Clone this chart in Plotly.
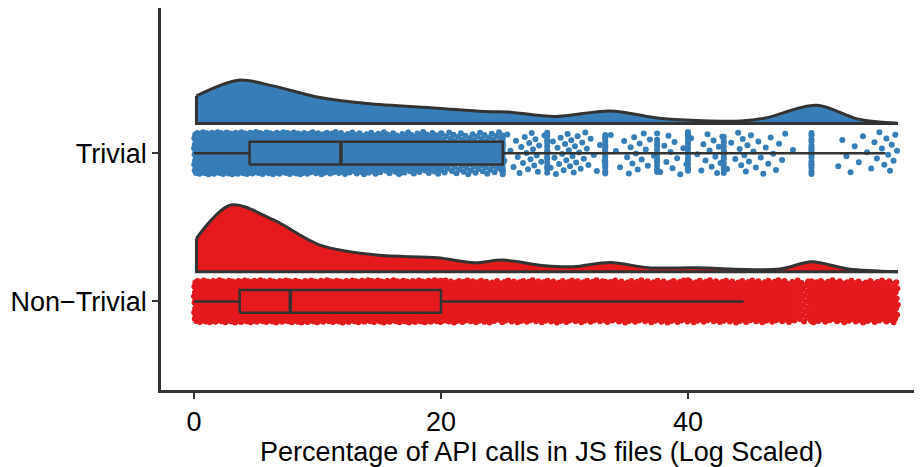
import plotly.graph_objects as go

# ---------------- data ----------------
groups = ["Non−Trivial", "Trivial"]
group_pos = [1, 2]
colors = ["#E41A1C", "#377EB8"]

# box statistics (percentage)
box_q1 = [3.7, 4.5]
box_median = [7.8, 11.9]
box_q3 = [20.0, 25.0]
box_lower = [0.0, 0.0]
box_upper = [44.5, 56.0]

# density (relative) of each group, read from the half-violins
dens_x_nontrivial = [0.2, 3.0, 6.4, 10.2, 14.8, 19.7, 22.7, 25.0, 28.4, 30.7, 33.7, 36.8, 40.6, 47.4, 50.0, 53.0, 57.0]
dens_y_nontrivial = [0.50, 1.00, 0.78, 0.40, 0.25, 0.21, 0.135, 0.175, 0.09, 0.075, 0.14, 0.06, 0.06, 0.04, 0.15, 0.04, 0.0]
dens_x_trivial = [0.2, 3.6, 6.4, 10.2, 14.0, 19.7, 23.5, 25.4, 29.2, 33.7, 37.9, 44.3, 46.2, 50.4, 53.8, 57.0]
dens_y_trivial = [0.415, 0.65, 0.565, 0.39, 0.30, 0.23, 0.18, 0.175, 0.105, 0.19, 0.075, 0.04, 0.08, 0.275, 0.065, 0.006]

# raw observations summarised: counts per 1-unit bin (0..56) and exact-value spikes
bin_counts_nontrivial = ([70] * 20 + [50] * 4 + [32] + [45] * 8 + [32] + [42] * 14
                         + [30, 24] + [36] * 7)
spike_vals_nontrivial = [20.0, 25.0, 33.3, 40.0, 50.0]
spike_counts_nontrivial = [10, 15, 15, 10, 15]

bin_counts_trivial = ([75] * 5 + [65] * 4 + [48] * 3 + [36] * 3 + [28] * 5 + [22] * 5
                      + [4, 7, 10, 4, 8, 10, 8, 4, 2, 3, 7, 6, 2, 6, 4, 2, 6, 7, 3, 8, 5, 5, 4, 1, 0, 0, 0, 3, 3, 3, 5, 7])
spike_vals_trivial = [16.7, 20.0, 25.0, 28.6, 33.3, 37.5, 40.0, 42.9, 50.0]
spike_counts_trivial = [8, 8, 16, 14, 16, 12, 14, 12, 16]

# ---------------- build ----------------
JITTER = 0.143
VIOLIN_OFFSET = 0.2
VIOLIN_SCALE = 0.45
BOX_HALF = 0.077
OUTLINE = "#333333"
GOLD = 0.6180339887


def expand(bin_counts, spike_vals, spike_counts, center):
    xs, ys = [], []
    k = 0
    for b, n in enumerate(bin_counts):
        for i in range(n):
            k += 1
            xs.append(b + (i + 0.5) / n)
            ys.append(center + ((k * GOLD) % 1.0 * 2 - 1) * JITTER)
    for v, n in zip(spike_vals, spike_counts):
        for i in range(n):
            k += 1
            xs.append(v)
            ys.append(center + ((k * GOLD) % 1.0 * 2 - 1) * JITTER)
    return xs, ys


fig = go.Figure()

point_sets = [
    (bin_counts_nontrivial, spike_vals_nontrivial, spike_counts_nontrivial),
    (bin_counts_trivial, spike_vals_trivial, spike_counts_trivial),
]
dens_sets = [
    (dens_x_nontrivial, dens_y_nontrivial),
    (dens_x_trivial, dens_y_trivial),
]

# jittered raw points
for gi in range(2):
    c = group_pos[gi]
    xs, ys = expand(*point_sets[gi], c)
    fig.add_trace(go.Scatter(x=xs, y=ys, mode="markers",
                             marker=dict(size=6, color=colors[gi], line=dict(width=0)),
                             showlegend=False, hoverinfo="skip"))

# box plots (drawn above points)
for gi in range(2):
    c = group_pos[gi]
    lo, hi = c - BOX_HALF, c + BOX_HALF
    fig.add_trace(go.Scatter(
        x=[box_lower[gi], box_q1[gi], None, box_q3[gi], box_upper[gi]],
        y=[c, c, None, c, c], mode="lines",
        line=dict(color=OUTLINE, width=2.5), showlegend=False, hoverinfo="skip"))
    fig.add_trace(go.Scatter(
        x=[box_q1[gi], box_q3[gi], box_q3[gi], box_q1[gi], box_q1[gi]],
        y=[lo, lo, hi, hi, lo], mode="lines", fill="toself", fillcolor=colors[gi],
        line=dict(color=OUTLINE, width=2.5), showlegend=False, hoverinfo="skip"))
    fig.add_trace(go.Scatter(
        x=[box_median[gi], box_median[gi]], y=[lo, hi], mode="lines",
        line=dict(color=OUTLINE, width=3.5), showlegend=False, hoverinfo="skip"))

# half violins
for gi in range(2):
    c = group_pos[gi]
    dx, dy = dens_sets[gi]
    base = c + VIOLIN_OFFSET
    # outline of left edge and flat base
    fig.add_trace(go.Scatter(
        x=[dx[0], dx[0], dx[-1]], y=[base + dy[0] * VIOLIN_SCALE, base, base],
        mode="lines", line=dict(color=OUTLINE, width=3),
        showlegend=False, hoverinfo="skip"))
    fig.add_trace(go.Scatter(
        x=dx, y=[base + v * VIOLIN_SCALE for v in dy], mode="lines",
        fill="tonexty", fillcolor=colors[gi],
        line=dict(color=OUTLINE, width=3, shape="spline", smoothing=0.9),
        showlegend=False, hoverinfo="skip"))

FONT = "Liberation Sans, Arial, Helvetica, sans-serif"
fig.update_layout(
    width=922, height=467,
    margin=dict(l=153, r=8, t=0, b=85),
    plot_bgcolor="white", paper_bgcolor="white",
    font=dict(family=FONT, size=27, color="black"),
    showlegend=False,
)
fig.update_xaxes(
    range=[-2.67, 58.95], tickvals=[0, 20, 40], ticktext=["0", "20", "40"],
    showgrid=False, zeroline=False, showline=True, linecolor=OUTLINE, linewidth=2.5,
    ticks="outside", ticklen=6, tickwidth=2, tickcolor=OUTLINE,
    tickfont=dict(size=27, color="black"),
    title=dict(text="Percentage of API calls in JS files (Log Scaled)",
               font=dict(size=27, color="black"), standoff=2),
)
fig.update_yaxes(
    range=[0.402, 2.98], tickvals=group_pos, ticktext=groups,
    showgrid=False, zeroline=False, showline=True, linecolor=OUTLINE, linewidth=2.5,
    ticks="outside", ticklen=6, tickwidth=2, tickcolor=OUTLINE,
    tickfont=dict(size=27, color="black"),
)

fig.write_html("out.html")
